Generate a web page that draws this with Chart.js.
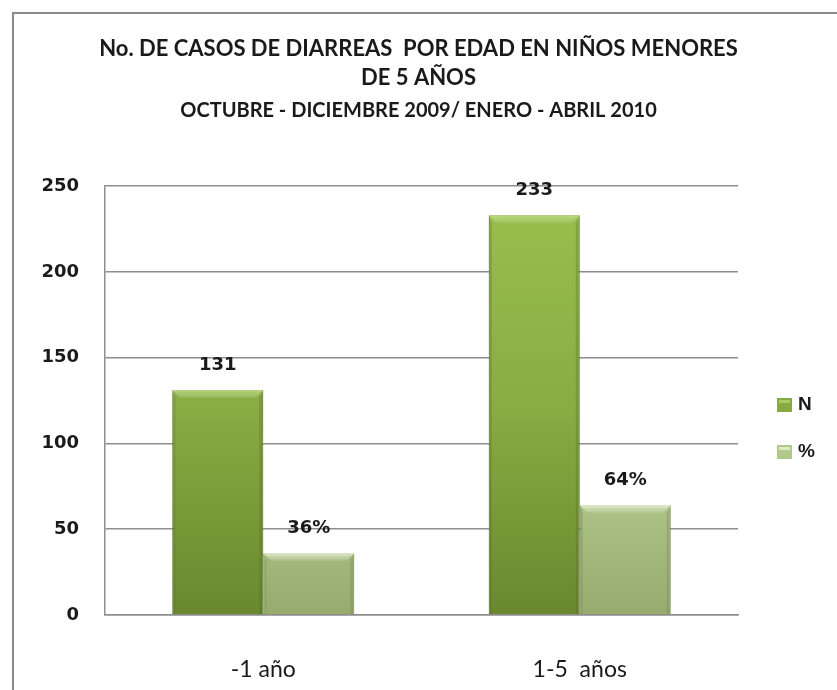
<!DOCTYPE html>
<html>
<head>
<meta charset="utf-8">
<script src="https://cdn.jsdelivr.net/npm/chart.js@4.4.1/dist/chart.umd.min.js"></script>
<style>
  html, body { margin: 0; padding: 0; background: #fff; }
  #wrap { position: relative; width: 837px; height: 690px; overflow: hidden; }
  #frame { position: absolute; left: 12px; top: 12px; width: 900px; height: 800px;
           border-left: 2px solid #8a8a8a; border-top: 2px solid #8a8a8a; }
  canvas { position: absolute; left: 0; top: 0; }
</style>
</head>
<body>
<div id="wrap">
  <div id="frame"></div>
  <canvas id="chart" width="837" height="690"></canvas>
</div>
<script>
const categories = ["-1 año", "1-5  años"];
const seriesNames = ["N", "%"];
const casesN = [131, 233];
const casesPct = [36, 64];
const labelSuffix = ["", "%"];
const yTicks = [0, 50, 100, 150, 200, 250];

const titleLines = ["No. DE CASOS DE DIARREAS  POR EDAD EN NIÑOS MENORES", "DE 5 AÑOS"];
const subtitleText = "OCTUBRE - DICIEMBRE 2009/ ENERO - ABRIL 2010";

const textColor = "#1a1a1a";
const gridColor = "#8e8e8e";
const bevelLight = ["rgba(190,225,120,0.6)", "rgba(240,250,215,0.7)"];
const bevelDark = ["rgba(80,105,35,0.3)", "rgba(110,130,80,0.3)"];

function barGradient(stops, solid) {
  return function (ctx) {
    const area = ctx.chart.chartArea;
    if (!area) return solid;
    const g = ctx.chart.ctx.createLinearGradient(0, area.top, 0, area.bottom);
    g.addColorStop(0, stops[0]);
    g.addColorStop(0.5, stops[1]);
    g.addColorStop(1, stops[2]);
    return g;
  };
}

// soft bevel on each bar, like the office chart
const bevel = {
  id: "bevel",
  afterDatasetsDraw(chart) {
    const ctx = chart.ctx;
    const b = 8;
    ctx.save();
    chart.data.datasets.forEach((ds, i) => {
      chart.getDatasetMeta(i).data.forEach(bar => {
        const l = bar.x - bar.width / 2, r = bar.x + bar.width / 2;
        const t = bar.y, btm = bar.base;
        const g = ctx.createLinearGradient(0, t, 0, t + b);
        g.addColorStop(0, bevelLight[i]);
        g.addColorStop(1, "rgba(255,255,255,0.05)");
        ctx.fillStyle = g;
        ctx.beginPath();
        ctx.moveTo(l, t); ctx.lineTo(r, t); ctx.lineTo(r - b, t + b); ctx.lineTo(l + b, t + b);
        ctx.closePath(); ctx.fill();
        ctx.fillStyle = bevelDark[i];
        ctx.beginPath();
        ctx.moveTo(r, t); ctx.lineTo(r, btm); ctx.lineTo(r - 4, btm); ctx.lineTo(r - 4, t + b);
        ctx.closePath(); ctx.fill();
        ctx.beginPath();
        ctx.moveTo(l, t); ctx.lineTo(l, btm); ctx.lineTo(l + 3, btm); ctx.lineTo(l + 3, t + b);
        ctx.closePath(); ctx.fill();
      });
    });
    ctx.restore();
  }
};

// value labels above the bars
const valueLabels = {
  id: "valueLabels",
  afterDatasetsDraw(chart) {
    const ctx = chart.ctx;
    ctx.save();
    ctx.font = "bold 18px 'DejaVu Sans'";
    ctx.fillStyle = textColor;
    ctx.textAlign = "center";
    ctx.textBaseline = "middle";
    chart.data.datasets.forEach((ds, i) => {
      chart.getDatasetMeta(i).data.forEach((bar, j) => {
        ctx.fillText(ds.data[j] + labelSuffix[i], bar.x, bar.y - 25);
      });
    });
    ctx.restore();
  }
};

// legend drawn at right, like the original
const sideLegend = {
  id: "sideLegend",
  afterDraw(chart) {
    const ctx = chart.ctx;
    ctx.save();
    ctx.font = "bold 19px 'Liberation Sans'";
    ctx.textBaseline = "middle";
    chart.data.datasets.forEach((ds, i) => {
      const y = 405 + i * 47;
      ctx.fillStyle = ds.legendColor;
      ctx.fillRect(777, y - 7, 15, 14);
      ctx.fillStyle = bevelLight[i];
      ctx.fillRect(779, y - 5, 11, 3);
      ctx.fillStyle = textColor;
      ctx.fillText(ds.label, 798, y);
    });
    ctx.restore();
  }
};

const chart = new Chart(document.getElementById("chart"), {
  type: "bar",
  data: {
    labels: categories,
    datasets: [
      {
        label: seriesNames[0],
        data: casesN,
        backgroundColor: barGradient(["#9ac04e", "#8aad43", "#6a882f"], "#8aad43"),
        borderColor: "#6b8a30",
        borderWidth: 1,
        legendColor: "#87ab42"
      },
      {
        label: seriesNames[1],
        data: casesPct,
        backgroundColor: barGradient(["#d8eab2", "#c0d798", "#97ab6f"], "#c0d798"),
        borderColor: "#8da266",
        borderWidth: 1,
        legendColor: "#b3c98a"
      }
    ]
  },
  options: {
    responsive: false,
    animation: false,
    layout: { padding: 0 },
    datasets: { bar: { categoryPercentage: 0.575, barPercentage: 1 } },
    plugins: {
      legend: { display: false },
      tooltip: { enabled: false },
      title: {
        display: true,
        text: titleLines,
        color: textColor,
        font: { family: "Lato", size: 22, weight: "bold", lineHeight: 1.32 },
        padding: { top: 34, bottom: 6 }
      },
      subtitle: {
        display: true,
        text: subtitleText,
        color: textColor,
        font: { family: "Lato", size: 20, weight: "bold", lineHeight: 1.2 },
        padding: { top: 0, bottom: 64 }
      }
    },
    scales: {
      x: {
        grid: { display: false },
        border: { display: true, color: gridColor, width: 1.5 },
        ticks: { color: textColor, padding: 33, font: { family: "Lato", size: 23 } },
        afterFit(scale) { scale.height = 75; }
      },
      y: {
        min: 0,
        max: 250,
        afterBuildTicks(scale) { scale.ticks = yTicks.map(v => ({ value: v })); },
        grid: { color: gridColor, lineWidth: 1.5, drawTicks: false },
        border: { display: true, color: gridColor, width: 1.5 },
        ticks: { color: textColor, padding: 26, font: { family: "DejaVu Sans", size: 18, weight: "bold" } },
        afterFit(scale) { scale.width = 105; }
      },
      // empty right-hand strip that leaves room for the legend
      side: {
        position: "right",
        display: true,
        grid: { display: false },
        border: { display: false },
        ticks: { display: false },
        afterFit(scale) { scale.width = 99; }
      }
    }
  },
  plugins: [bevel, valueLabels, sideLegend]
});
</script>
</body>
</html>
